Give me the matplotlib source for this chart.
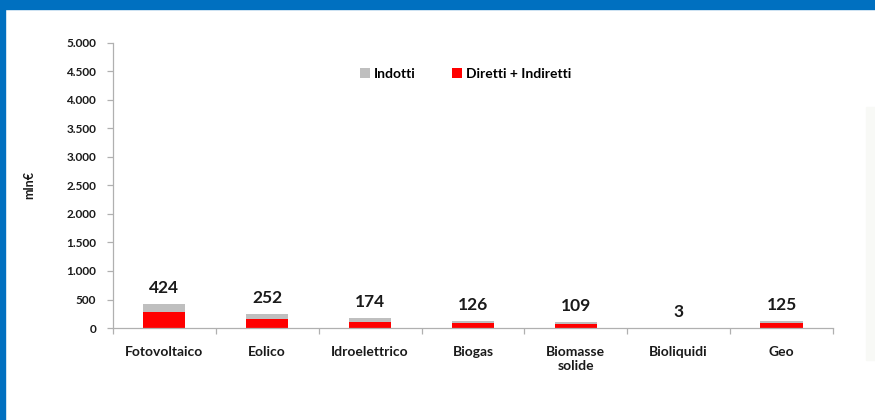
import matplotlib.pyplot as plt
import numpy as np
from matplotlib.patches import Rectangle
from matplotlib.ticker import FuncFormatter, FixedLocator

categories = ["Fotovoltaico", "Eolico", "Idroelettrico", "Biogas",
              "Biomasse\nsolide", "Bioliquidi", "Geo"]
totals = [424, 252, 174, 126, 109, 3, 125]
diretti = [285, 157, 114, 88, 66, 2, 81]
indotti = [t - d for t, d in zip(totals, diretti)]

RED = "#ff0000"
GREY = "#bfbfbf"
BLUE = "#0070c0"
AXIS = "#b0b0b0"

plt.rcParams["font.family"] = ["Lato", "DejaVu Sans"]
plt.rcParams["font.weight"] = "bold"

fig = plt.figure(figsize=(8.75, 4.2), dpi=100)
ax = fig.add_axes([0.129, 0.219, 0.823, 0.679])

x = np.arange(len(categories))
W = 0.41
ax.bar(x, diretti, width=W, color=RED, label="Diretti + Indiretti", zorder=2)
ax.bar(x, indotti, width=W, bottom=diretti, color=GREY, label="Indotti", zorder=2)

for xi, t in zip(x, totals):
    ax.annotate(str(t), (xi, t), xytext=(0, 5.5), textcoords="offset points",
                ha="center", va="bottom", fontsize=12.5, fontweight="bold",
                color="#1a1a1a")

ax.set_xlim(-0.5, len(categories) - 0.5)
ax.set_ylim(0, 5000)
ax.set_yticks(np.arange(0, 5001, 500))
ax.yaxis.set_major_formatter(FuncFormatter(lambda v, p: f"{v:,.0f}".replace(",", ".")))
ax.set_xticks(x)
ax.set_xticklabels(categories, fontsize=10, fontweight="bold", color="#1a1a1a")
ax.xaxis.set_minor_locator(FixedLocator(np.arange(-0.5, len(categories), 1.0)))
ax.tick_params(axis="x", which="major", length=0, pad=13)
ax.tick_params(axis="x", which="minor", length=4, color=AXIS, width=0.9)
ax.tick_params(axis="y", length=4, color=AXIS, width=0.9, labelsize=8.5,
               labelcolor="#1a1a1a", pad=8)
for lab in ax.get_yticklabels():
    lab.set_fontweight("bold")

for s in ["top", "right"]:
    ax.spines[s].set_visible(False)
for s in ["left", "bottom"]:
    ax.spines[s].set_color(AXIS)
    ax.spines[s].set_linewidth(0.9)

ax.set_ylabel("mln€", fontsize=9, fontweight="bold", color="#1a1a1a", labelpad=22)

h, l = ax.get_legend_handles_labels()
ax.legend(h[::-1], l[::-1], loc="center", bbox_to_anchor=(0.49, 0.89), ncol=2,
          frameon=False, fontsize=10, handlelength=0.7, handleheight=0.7,
          handletextpad=0.3, columnspacing=2.6)

# slide frame
fig.add_artist(Rectangle((0, 1 - 9 / 420), 1, 9 / 420, transform=fig.transFigure,
                         color=BLUE, zorder=0))
fig.add_artist(Rectangle((0, 0), 5 / 875, 1, transform=fig.transFigure,
                         color=BLUE, zorder=0))
fig.add_artist(Rectangle((866 / 875, 60 / 420), 9 / 875, 253 / 420,
                         transform=fig.transFigure, color="#f8f9f6", zorder=0))

fig.savefig("out.png", dpi=100)
